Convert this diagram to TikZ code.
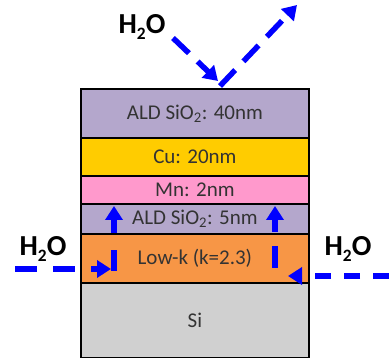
\documentclass[tikz,border=0pt]{standalone}
\usepackage{fontspec}
\setmainfont{Carlito}
\usetikzlibrary{arrows.meta}
\definecolor{aldc}{RGB}{180,167,204}
\definecolor{cuc}{RGB}{255,204,0}
\definecolor{mnc}{RGB}{255,153,204}
\definecolor{lowkc}{RGB}{247,150,70}
\definecolor{sic}{RGB}{208,208,208}
\definecolor{arrc}{RGB}{0,0,255}
\newcommand{\lowsub}[1]{\raisebox{-0.45ex}{\fontsize{0.6em}{0.6em}\selectfont #1}}
\begin{document}
\begin{tikzpicture}[x=1pt,y=-1pt,
  layer/.style={draw=black,line width=1.8pt,minimum width=228pt,inner sep=0pt,anchor=north west,
    font=\fontsize{21}{21}\selectfont,text=black!80},
  big/.style={font=\fontsize{29}{29}\selectfont\bfseries,text=black,inner sep=0pt},
  flow/.style={draw=arrc,line width=5.5pt,dash pattern=on 22pt off 16pt,
    -{Triangle[width=17pt,length=14pt]}}]
\useasboundingbox (0,0) rectangle (389,358);
\node[layer,fill=sic,minimum height=75pt] (si) at (80,282) {};
\node[font=\fontsize{21}{21}\selectfont,text=black!80] (silabel) at (si.center) {Si};
\node[layer,fill=lowkc,minimum height=49pt] (lowk) at (80,233) {Low-k (k=2.3)};
\node[layer,fill=aldc,minimum height=30pt] (ald5) at (80,203) {ALD SiO\textsubscript{2}: 5nm};
\node[layer,fill=mnc,minimum height=28pt] (mn) at (80,175) {Mn: 2nm};
\node[layer,fill=cuc,minimum height=38pt] (cu) at (80,137) {Cu: 20nm};
\node[layer,fill=aldc,minimum height=49pt] (ald40) at (80,88) {ALD SiO\textsubscript{2}: 40nm};
\node[big] (htop) at (142,27) {H\lowsub{2}O};
\node[big] (hleft) at (43,249) {H\lowsub{2}O};
\node[big] (hright) at (348,249) {H\lowsub{2}O};
\coordinate (tin) at (173,38);
\coordinate (thit) at (218,81);
\coordinate (tout) at (220,86);
\coordinate (tend) at (297,5);
\coordinate (lstart) at (15,269);
\coordinate (lcorner) at (111,269);
\coordinate (lup0) at (114,271);
\coordinate (lup1) at (114,206);
\coordinate (rstart) at (389,276);
\coordinate (rcorner) at (288,276);
\coordinate (rup0) at (275,268);
\coordinate (rup1) at (275,206);
\draw[flow,dash pattern=on 22pt off 12pt] (tin) -- (thit);
\draw[flow,dash pattern=on 22pt off 12pt] (tout) -- (tend);
\draw[flow] (lstart) -- (lcorner);
\draw[flow,dash pattern=on 21pt off 17pt] (lup0) -- (lup1);
\draw[flow,dash pattern=on 16pt off 13pt] (rstart) -- (rcorner);
\draw[flow,dash pattern=on 22pt off 14pt] (rup0) -- (rup1);
\end{tikzpicture}
\end{document}
